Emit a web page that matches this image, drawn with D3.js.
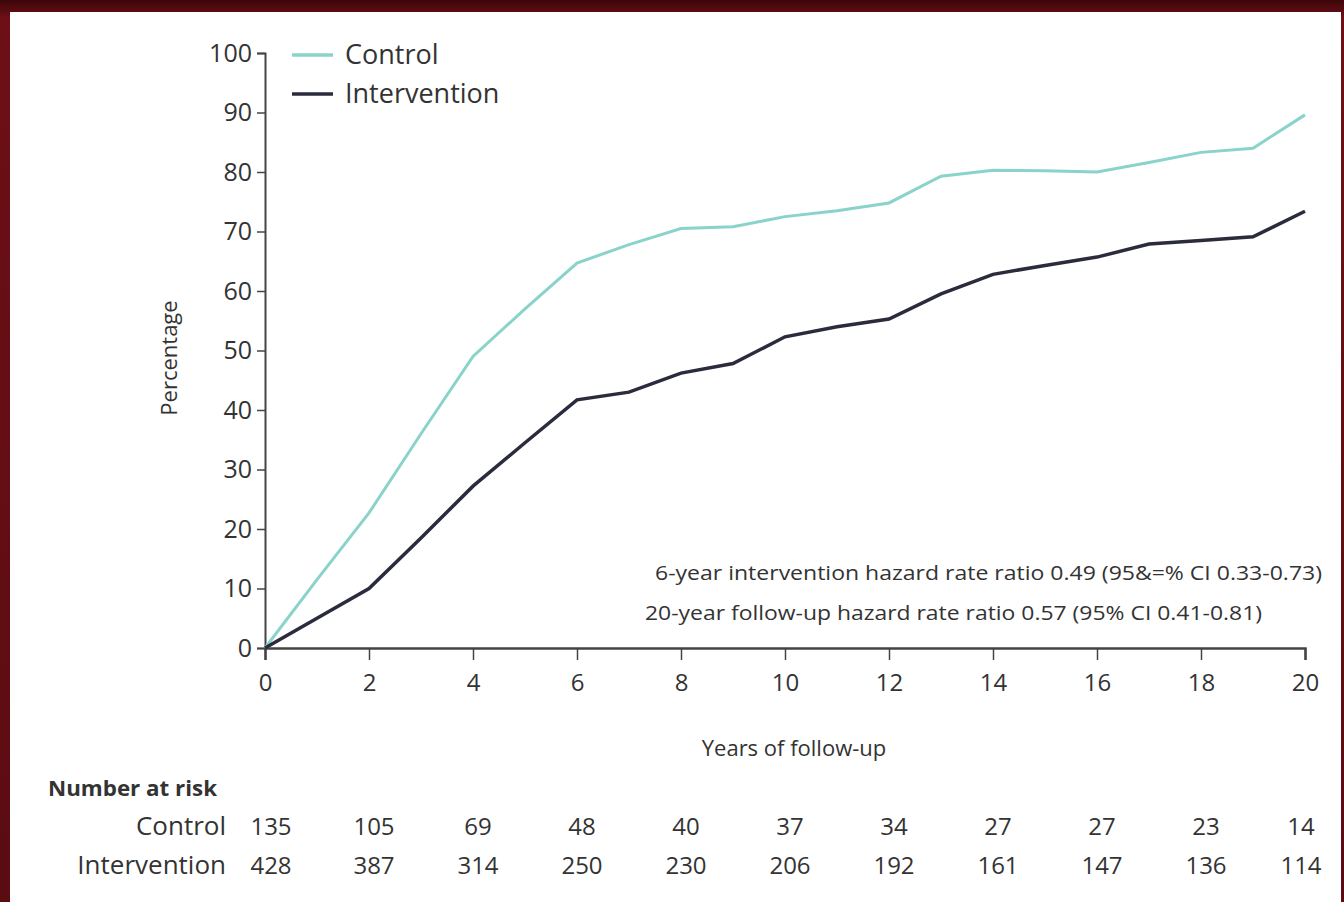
<!DOCTYPE html>
<html>
<head>
<meta charset="utf-8">
<script src="https://cdn.jsdelivr.net/npm/d3@7"></script>
<style>
  body { margin: 0; background: #fff; }
  svg text { font-family: "Open Sans", "Noto Sans", sans-serif; fill: #333; }
</style>
</head>
<body>
<div id="chart"></div>
<script>
// years of follow-up and cumulative percentage per arm
var years = [0,1,2,3,4,5,6,7,8,9,10,11,12,13,14,15,16,17,18,19,20];
var controlPct = [0,11.5,22.7,36,49,57,64.7,67.8,70.5,70.8,72.5,73.5,74.8,79.3,80.3,80.2,80,81.6,83.3,84,89.6];
var interventionPct = [0,5,10,18.5,27.2,34.5,41.7,43,46.2,47.8,52.3,54,55.3,59.5,62.8,64.3,65.7,67.9,68.5,69.1,73.4];

var xTicks = [0,2,4,6,8,10,12,14,16,18,20];
var yTicks = [0,10,20,30,40,50,60,70,80,90,100];

// number at risk table
var riskYears = [0,2,4,6,8,10,12,14,16,18,20];
var riskControl = [135,105,69,48,40,37,34,27,27,23,14];
var riskIntervention = [428,387,314,250,230,206,192,161,147,136,114];

var notes = [
  "6-year intervention hazard rate ratio 0.49 (95&=% CI 0.33-0.73)",
  "20-year follow-up hazard rate ratio 0.57 (95% CI 0.41-0.81)"
];

var W = 1344, H = 902;
var svg = d3.select("#chart").append("svg")
  .attr("width", W).attr("height", H);

// dark red frame
var grad = svg.append("defs").append("linearGradient")
  .attr("id", "frame").attr("x1", 0).attr("y1", 0).attr("x2", 0).attr("y2", 1);
grad.append("stop").attr("offset", "0").attr("stop-color", "#3c0609");
grad.append("stop").attr("offset", "0.02").attr("stop-color", "#6e0f17");
grad.append("stop").attr("offset", "1").attr("stop-color", "#5a0c12");
svg.append("rect").attr("width", W).attr("height", H).attr("fill", "url(#frame)");
svg.append("rect").attr("x", 10).attr("y", 12).attr("width", W - 13).attr("height", H - 12)
  .attr("fill", "#ffffff");

var x = d3.scaleLinear().domain([0, 20]).range([265, 1305]);
var y = d3.scaleLinear().domain([0, 100]).range([648, 53]);

var axisColor = "#444";

// y axis
var yAxis = svg.append("g")
  .attr("transform", "translate(265,0)")
  .call(d3.axisLeft(y).tickValues(yTicks).tickSize(8).tickPadding(5));
yAxis.select(".domain").attr("stroke", axisColor).attr("stroke-width", 2);
yAxis.selectAll(".tick line").attr("stroke", axisColor).attr("stroke-width", 1.5);
yAxis.selectAll(".tick text").attr("font-size", 25).attr("fill", "#333")
  .attr("font-family", "'Open Sans', sans-serif");

// x axis
var xAxis = svg.append("g")
  .attr("transform", "translate(0,648)")
  .call(d3.axisBottom(x).tickValues(xTicks).tickSize(12).tickPadding(14));
xAxis.select(".domain").attr("stroke", axisColor).attr("stroke-width", 2.5);
xAxis.selectAll(".tick line").attr("stroke", axisColor).attr("stroke-width", 1.5);
xAxis.selectAll(".tick text").attr("font-size", 24).attr("fill", "#333")
  .attr("font-family", "'Open Sans', sans-serif");

// axis titles
svg.append("text")
  .attr("transform", "translate(177,358) rotate(-90)")
  .attr("text-anchor", "middle")
  .attr("font-size", 22)
  .text("Percentage");

svg.append("text")
  .attr("x", 794).attr("y", 756)
  .attr("text-anchor", "middle")
  .attr("font-size", 22)
  .text("Years of follow-up");

// lines
var line = d3.line()
  .x(function(d, i) { return x(years[i]); })
  .y(function(d) { return y(d); });

svg.append("path")
  .datum(controlPct)
  .attr("fill", "none")
  .attr("stroke", "#8ad3cb")
  .attr("stroke-width", 3)
  .attr("d", line);

svg.append("path")
  .datum(interventionPct)
  .attr("fill", "none")
  .attr("stroke", "#2a2b3d")
  .attr("stroke-width", 3.5)
  .attr("d", line);

// legend
var legend = [
  { name: "Control", color: "#8ad3cb", yy: 55 },
  { name: "Intervention", color: "#2a2b3d", yy: 94 }
];
legend.forEach(function(l) {
  svg.append("line")
    .attr("x1", 292).attr("x2", 333)
    .attr("y1", l.yy).attr("y2", l.yy)
    .attr("stroke", l.color).attr("stroke-width", 3.5);
  svg.append("text")
    .attr("x", 345).attr("y", l.yy + 9)
    .attr("font-size", 27)
    .text(l.name);
});

// hazard notes
svg.append("text")
  .attr("x", 655).attr("y", 580)
  .attr("font-size", 20)
  .attr("textLength", 667).attr("lengthAdjust", "spacingAndGlyphs")
  .text(notes[0]);
svg.append("text")
  .attr("x", 645).attr("y", 620)
  .attr("font-size", 20)
  .attr("textLength", 617).attr("lengthAdjust", "spacingAndGlyphs")
  .text(notes[1]);

// number at risk
svg.append("text")
  .attr("x", 48).attr("y", 796)
  .attr("font-size", 22)
  .attr("font-weight", "bold")
  .attr("textLength", 169).attr("lengthAdjust", "spacingAndGlyphs")
  .text("Number at risk");

svg.append("text")
  .attr("x", 226).attr("y", 835)
  .attr("text-anchor", "end")
  .attr("font-size", 26)
  .text("Control");
svg.append("text")
  .attr("x", 226).attr("y", 874)
  .attr("text-anchor", "end")
  .attr("font-size", 26)
  .text("Intervention");

svg.selectAll(".riskC")
  .data(riskControl)
  .enter().append("text")
  .attr("class", "riskC")
  .attr("x", function(d, i) { return x(riskYears[i]) + (i == 0 ? 6 : i == 10 ? -4 : 5); })
  .attr("y", 835)
  .attr("text-anchor", "middle")
  .attr("font-size", 24)
  .text(function(d) { return d; });

svg.selectAll(".riskI")
  .data(riskIntervention)
  .enter().append("text")
  .attr("class", "riskI")
  .attr("x", function(d, i) { return x(riskYears[i]) + (i == 0 ? 6 : i == 10 ? -4 : 5); })
  .attr("y", 874)
  .attr("text-anchor", "middle")
  .attr("font-size", 24)
  .text(function(d) { return d; });
</script>
</body>
</html>
